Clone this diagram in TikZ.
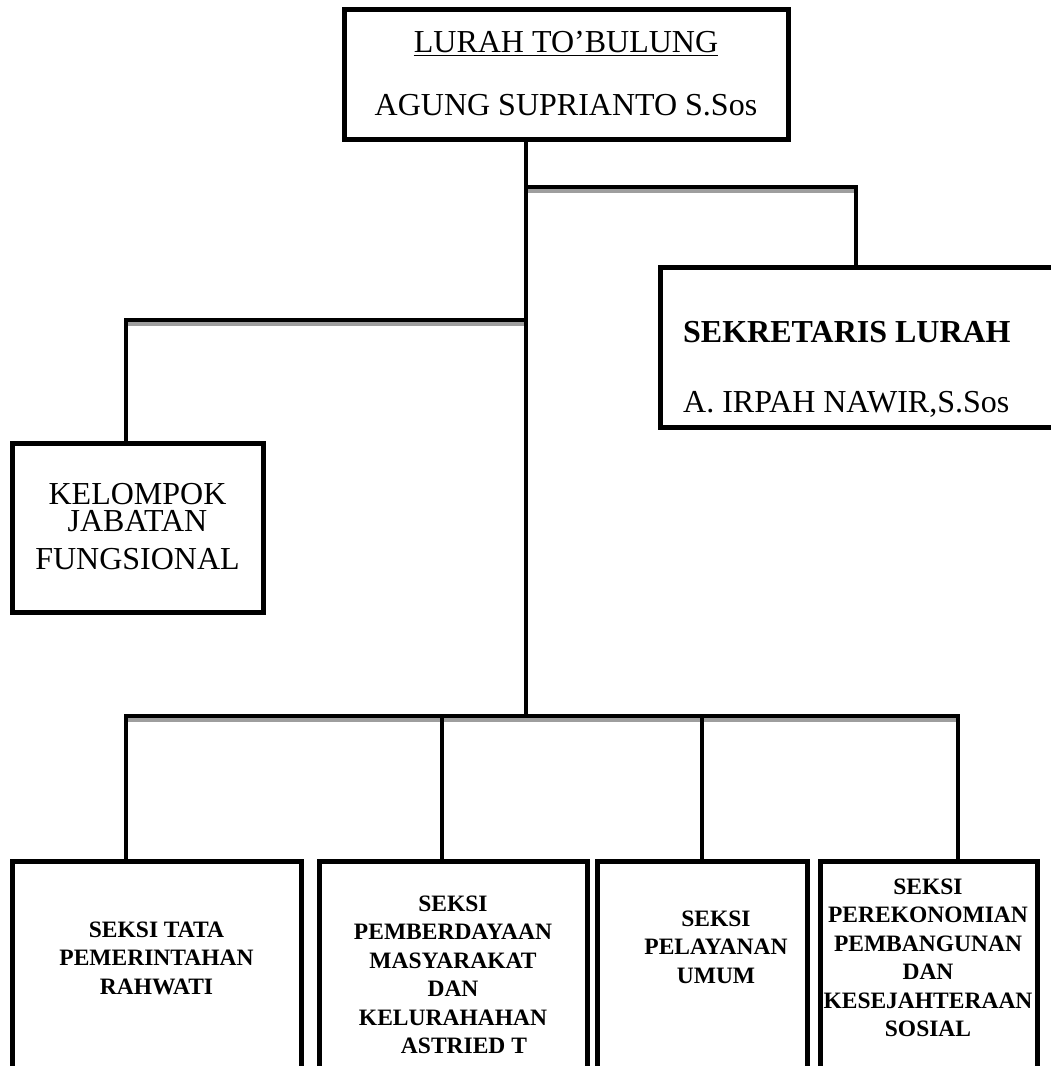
\documentclass[tikz,border=0pt]{standalone}
\usepackage{fontspec}
\setmainfont{Liberation Serif}
\begin{document}
\begin{tikzpicture}[x=1pt,y=-1pt,
  box/.style={draw,line width=5pt,rectangle,inner sep=0pt,outer sep=0pt},
  conn/.style={line width=4.5pt},
  shade/.style={line width=3.5pt,draw=black!38},
  rtxt/.style={inner sep=0pt,align=center,font=\fontsize{32}{36}\selectfont},
  sbtxt/.style={inner sep=0pt,align=center,font=\bfseries\fontsize{23.5}{28.5}\selectfont}]
\useasboundingbox (0,0) rectangle (1051,1066);
\clip (0,0) rectangle (1051,1066);
\fill[white] (0,0) rectangle (1051,1066);

% boxes
\node[box,minimum width=444pt,minimum height=130pt] (top) at (566,74) {};
\node[box,minimum width=400pt,minimum height=160pt] (sek) at (860,347) {};
\node[box,minimum width=251pt,minimum height=169pt] (kel) at (137.5,527.5) {};
\node[box,minimum width=289pt,minimum height=229pt] (b1) at (156.5,975.5) {};
\node[box,minimum width=268pt,minimum height=229pt] (b2) at (453,975.5) {};
\node[box,minimum width=210pt,minimum height=229pt] (b3) at (702,975.5) {};
\node[box,minimum width=217pt,minimum height=229pt] (b4) at (928.5,975.5) {};

% texts
\node[rtxt,anchor=base] (toptitle) at (566,52) {LURAH TO’BULUNG};
\draw[line width=1.8pt] ([yshift=-3.5pt]toptitle.base west) -- ([yshift=-3.5pt]toptitle.base east);
\node[rtxt,anchor=base] (topname) at (566,115) {AGUNG SUPRIANTO S.Sos};
\node[inner sep=0pt,anchor=base west,font=\bfseries\fontsize{32}{36}\selectfont] (sektitle) at (683,342) {SEKRETARIS LURAH};
\node[inner sep=0pt,anchor=base west,font=\fontsize{32}{36}\selectfont] (sekname) at (683,412) {A. IRPAH NAWIR,S.Sos};
\node[rtxt,anchor=base] (kel1) at (137.5,504) {KELOMPOK};
\node[rtxt,anchor=base] (kel2) at (137.5,531) {JABATAN};
\node[rtxt,anchor=base] (kel3) at (137.5,569) {FUNGSIONAL};
\node[sbtxt] (b1txt) at (156.5,958) {SEKSI TATA\\PEMERINTAHAN\\RAHWATI};
\node[sbtxt] (b2txt) at (453,975) {SEKSI\\PEMBERDAYAAN\\MASYARAKAT\\DAN\\KELURAHAHAN\\\hspace*{22pt}ASTRIED T};
\node[sbtxt] (b3txt) at (716,947) {SEKSI\\PELAYANAN\\UMUM};
\node[sbtxt] (b4txt) at (928,958) {SEKSI\\PEREKONOMIAN\\PEMBANGUNAN\\DAN\\KESEJAHTERAAN\\SOSIAL};

% junctions
\coordinate (j1) at (526,187);
\coordinate (j2) at (526,320);
\coordinate (j3) at (526,716);
\coordinate (sk) at (856,267);
\coordinate (kc) at (126,443);
\coordinate (b1c) at (126,861);
\coordinate (b2c) at (442,861);
\coordinate (b4c) at (958,861);

% shadows under horizontals
\draw[shade] ([yshift=-4pt]j1) -- ([yshift=-4pt]j1 -| sk);
\draw[shade] ([yshift=-4pt]j2) -- ([yshift=-4pt]j2 -| kc);
\draw[shade] ([yshift=-4pt]j3 -| b1c) -- ([yshift=-4pt]j3 -| b4c);

% connectors
\draw[conn] (top.south -| j1) -- (j3);
\draw[conn] (j1) -| (sk);
\draw[conn] (j2) -| (kc);
\draw[conn] (j3) -| (b1c);
\draw[conn] (j3) -| (b4c);
\draw[conn] (j3 -| b2c) -- (b2c);
\draw[conn] (j3 -| b3.north) -- (b3.north);
\end{tikzpicture}
\end{document}
